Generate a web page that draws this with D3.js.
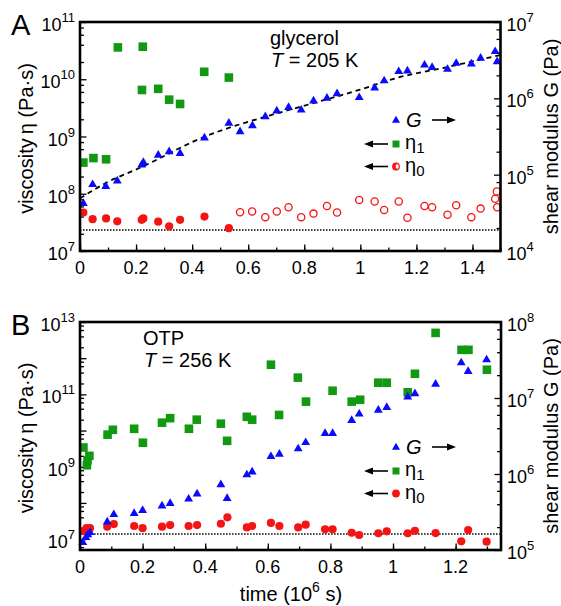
<!DOCTYPE html>
<html>
<head>
<meta charset="utf-8">
<script src="https://cdn.jsdelivr.net/npm/d3@7"></script>
<style>
  body { margin: 0; background: #fff; }
  svg { display: block; font-family: 'Liberation Sans', Arial, sans-serif; }
</style>
</head>
<body>
<svg id="chart" width="561" height="606"></svg>
<script>
// ---- data: [time (10^6 s), value] ----
// panel A, glycerol 205 K
const glyEta1 = [[0.012, 3.5e8], [0.048, 4.2e8], [0.093, 4.0e8], [0.135, 3.6e10], [0.224, 3.7e10],
  [0.221, 6.5e9], [0.279, 6.8e9], [0.318, 4.4e9], [0.357, 3.7e9], [0.443, 1.35e10], [0.531, 1.07e10]];
const glyEta0 = [[0.012, 4.7e7], [0.045, 3.6e7], [0.093, 3.7e7], [0.133, 3.3e7], [0.22, 3.5e7],
  [0.226, 3.7e7], [0.279, 3.25e7], [0.318, 2.7e7], [0.357, 3.5e7], [0.444, 4.0e7], [0.531, 2.5e7]];
const glyEta0Open = [[0.571, 4.75e7], [0.614, 4.9e7], [0.661, 3.9e7], [0.702, 4.9e7], [0.744, 5.8e7],
  [0.789, 3.9e7], [0.833, 4.5e7], [0.881, 6.1e7], [0.917, 4.7e7], [0.996, 7.8e7], [1.051, 7.3e7],
  [1.085, 5.2e7], [1.137, 7.3e7], [1.168, 3.8e7], [1.229, 6.1e7], [1.256, 5.8e7], [1.311, 4.3e7],
  [1.342, 6.3e7], [1.396, 3.9e7], [1.429, 5.5e7], [1.481, 8.2e7], [1.487, 1.1e8], [1.488, 5.8e7]];
const glyG = [[0.012, 4.3e4], [0.045, 7.6e4], [0.092, 7.2e4], [0.133, 8.5e4], [0.22, 1.37e5],
  [0.226, 1.48e5], [0.279, 1.85e5], [0.318, 2.05e5], [0.357, 1.95e5], [0.444, 3.1e5], [0.531, 4.85e5],
  [0.571, 3.75e5], [0.615, 4.5e5], [0.661, 5.9e5], [0.702, 7.0e5], [0.744, 7.8e5], [0.789, 7.2e5],
  [0.833, 9.5e5], [0.881, 1.03e6], [0.917, 1.18e6], [0.996, 1.05e6], [1.051, 1.4e6], [1.085, 1.74e6],
  [1.137, 2.3e6], [1.168, 2.34e6], [1.229, 2.8e6], [1.256, 2.6e6], [1.311, 2.46e6], [1.342, 2.95e6],
  [1.396, 2.9e6], [1.429, 3.45e6], [1.481, 4.2e6], [1.488, 3.1e6]];
const glyFit = [[0, 4.9e4], [0.093, 7.8e4], [0.22, 1.26e5], [0.444, 3.14e5], [0.679, 6.0e5],
  [0.789, 7.8e5], [0.996, 1.29e6], [1.137, 1.88e6], [1.311, 2.57e6], [1.5, 3.7e6]];
const glyRef = [[0, 2.33e7], [1.5, 2.33e7]];

// panel B, OTP 256 K
const otpEta1 = [[0.011, 3.4e9], [0.022, 1.1e9], [0.024, 1.5e9], [0.03, 2.0e9], [0.088, 7.7e9],
  [0.105, 1.05e10], [0.173, 1.12e10], [0.201, 4.6e9], [0.262, 1.65e10], [0.288, 2.2e10],
  [0.348, 1.12e10], [0.373, 2.0e10], [0.45, 1.55e10], [0.47, 5.2e9], [0.533, 2.4e10], [0.55, 2.0e10],
  [0.61, 6.6e11], [0.636, 2.7e10], [0.696, 2.9e11], [0.722, 6.3e10], [0.807, 1.26e11], [0.868, 6.3e10],
  [0.895, 7.1e10], [0.953, 2.1e11], [0.98, 2.1e11], [1.047, 1.14e11], [1.07, 3.7e11], [1.136, 5.0e12],
  [1.219, 1.7e12], [1.241, 1.7e12], [1.3, 4.8e11]];
const otpEta0 = [[0.01, 1.67e7], [0.021, 2.0e7], [0.032, 2.0e7], [0.087, 2.2e7], [0.108, 2.6e7],
  [0.173, 2.3e7], [0.2, 2.0e7], [0.262, 2.2e7], [0.288, 2.45e7], [0.347, 2.3e7], [0.374, 2.45e7],
  [0.45, 2.66e7], [0.471, 4.0e7], [0.533, 2.1e7], [0.55, 2.3e7], [0.61, 2.8e7], [0.637, 2.3e7],
  [0.697, 2.1e7], [0.721, 2.5e7], [0.783, 1.86e7], [0.807, 1.86e7], [0.868, 1.5e7], [0.892, 1.3e7],
  [0.953, 1.45e7], [0.98, 1.64e7], [1.047, 1.45e7], [1.07, 1.7e7], [1.136, 1.47e7], [1.218, 8.7e6],
  [1.24, 1.78e7], [1.299, 8.5e6]];
const otpG = [[0.009, 1.29e5], [0.019, 1.5e5], [0.025, 1.63e5], [0.032, 1.74e5], [0.087, 2.4e5],
  [0.108, 3.0e5], [0.173, 3.1e5], [0.2, 3.4e5], [0.262, 3.9e5], [0.288, 4.2e5], [0.347, 4.8e5],
  [0.374, 5.6e5], [0.45, 7.4e5], [0.47, 4.9e5], [0.533, 1.0e6], [0.55, 1.09e6], [0.61, 1.74e6],
  [0.637, 1.87e6], [0.697, 2.2e6], [0.721, 2.66e6], [0.783, 3.5e6], [0.807, 3.5e6], [0.868, 5.2e6],
  [0.892, 6.3e6], [0.953, 7.1e6], [0.98, 7.7e6], [1.047, 1.06e7], [1.07, 1.17e7], [1.136, 1.56e7],
  [1.218, 2.98e7], [1.24, 2.29e7], [1.299, 3.26e7]];
const otpRef = [[0.045, 1.38e7], [1.345, 1.38e7]];

// axis ticks
const xTicksA = [0, 0.2, 0.4, 0.6, 0.8, 1, 1.2, 1.4];
const xTicksB = [0, 0.2, 0.4, 0.6, 0.8, 1, 1.2];
const leftLabelsA = [7, 8, 9, 10, 11];
const rightLabelsA = [4, 5, 6, 7];
const leftLabelsB = [7, 9, 11, 13];
const rightLabelsB = [5, 6, 7, 8];

const blue = '#0a0aff';
const green = '#129912';
const red = '#f51414';

const svg = d3.select('#chart');

// minor log ticks at 2,4,6,8 and each decade
const logTicks = (lo, hi) => {
  const out = [];
  for (let e = Math.floor(Math.log10(lo)); e <= Math.ceil(Math.log10(hi)); e++) {
    [2, 4, 6, 8].forEach((m) => {
      const v = m * 10 ** e;
      if (v >= lo && v <= hi) out.push(v);
    });
  }
  return out;
};
const decades = (lo, hi) => d3.range(Math.ceil(Math.log10(lo)), Math.floor(Math.log10(hi)) + 1).map((e) => 10 ** e);

const powLabel = (g, exps, scale, x, anchor) => {
  exps.forEach((e) => {
    const t = g.append('text')
      .attr('x', x)
      .attr('y', scale(10 ** e) + 9)
      .attr('text-anchor', anchor)
      .style('font-size', '18px');
    t.append('tspan').text('10');
    t.append('tspan').attr('dy', -9).style('font-size', '13px').text(e);
  });
};

const arrow = (g, x1, x2, y) => {
  const dir = x2 > x1 ? 1 : -1;
  g.append('line')
    .attr('x1', x1).attr('x2', x2 - dir * 6).attr('y1', y).attr('y2', y)
    .attr('stroke', '#000').attr('stroke-width', 1.6);
  g.append('path')
    .attr('d', `M${x2},${y}L${x2 - dir * 9},${y - 3.5}L${x2 - dir * 9},${y + 3.5}Z`)
    .attr('fill', '#000');
};

const triangle = d3.symbol().type(d3.symbolTriangle).size(34);

const makePanel = (p) => {
  const x = d3.scaleLinear().domain(p.xDomain).range([p.left, p.right]);
  const yL = d3.scaleLog().domain(p.yLDomain).range([p.bottom, p.top]);
  const yR = d3.scaleLog().domain(p.yRDomain).range([p.bottom, p.top]);
  const g = svg.append('g');

  // ticks (inward)
  const tickAxis = (axis, scale, values, size, transform) => {
    g.append('g')
      .attr('transform', transform)
      .call(axis(scale).tickValues(values).tickSize(-size).tickSizeOuter(0).tickFormat(''))
      .call((s) => s.select('.domain').remove())
      .call((s) => s.selectAll('line').attr('stroke', '#000').attr('stroke-width', 1.3));
  };
  const xMinor = d3.range(0, p.xDomain[1] + 1e-9, 0.1).map((d) => Math.round(d * 10) / 10);
  tickAxis(d3.axisBottom, x, xMinor, 3.5, `translate(0,${p.bottom})`);
  tickAxis(d3.axisBottom, x, p.xTicks, 6.5, `translate(0,${p.bottom})`);
  tickAxis(d3.axisLeft, yL, logTicks(...p.yLDomain), 4, `translate(${p.left},0)`);
  tickAxis(d3.axisLeft, yL, decades(...p.yLDomain), 6.5, `translate(${p.left},0)`);
  tickAxis(d3.axisRight, yR, logTicks(...p.yRDomain), 4, `translate(${p.right},0)`);
  tickAxis(d3.axisRight, yR, decades(...p.yRDomain), 6.5, `translate(${p.right},0)`);

  // tick labels
  p.xTicks.forEach((t) => {
    g.append('text')
      .attr('x', x(t))
      .attr('y', p.bottom + 23)
      .attr('text-anchor', 'middle')
      .style('font-size', '18px')
      .text(String(+t.toFixed(1)));
  });
  powLabel(g, p.leftLabels, yL, p.left - 5, 'end');
  powLabel(g, p.rightLabels, yR, p.right + 6, 'start');

  // reference lines
  const lineL = d3.line().x((d) => x(d[0])).y((d) => yL(d[1]));
  g.append('path')
    .attr('d', lineL(p.ref))
    .attr('fill', 'none').attr('stroke', '#000').attr('stroke-width', 1.5)
    .attr('stroke-dasharray', '1.5,1.5');
  if (p.fit) {
    g.append('path')
      .attr('d', d3.line().x((d) => x(d[0])).y((d) => yR(d[1])).curve(d3.curveMonotoneX)(p.fit))
      .attr('fill', 'none').attr('stroke', '#000').attr('stroke-width', 1.8)
      .attr('stroke-dasharray', '5,4');
  }

  // markers
  g.append('g').selectAll('rect').data(p.eta1).join('rect')
    .attr('x', (d) => x(d[0]) - 4.3).attr('y', (d) => yL(d[1]) - 4.3)
    .attr('width', 8.6).attr('height', 8.6)
    .attr('fill', green);
  g.append('g').selectAll('circle').data(p.eta0).join('circle')
    .attr('cx', (d) => x(d[0])).attr('cy', (d) => yL(d[1])).attr('r', 4.1)
    .attr('fill', red);
  if (p.eta0Open) {
    g.append('g').selectAll('circle').data(p.eta0Open).join('circle')
      .attr('cx', (d) => x(d[0])).attr('cy', (d) => yL(d[1])).attr('r', 3.6)
      .attr('fill', '#fff').attr('stroke', red).attr('stroke-width', 1.3);
  }
  g.append('g').selectAll('path').data(p.G).join('path')
    .attr('d', triangle)
    .attr('transform', (d) => `translate(${x(d[0])},${yR(d[1]) + 0.8})`)
    .attr('fill', blue);

  // frame
  g.append('rect')
    .attr('x', p.left).attr('y', p.top)
    .attr('width', p.right - p.left).attr('height', p.bottom - p.top)
    .attr('fill', 'none').attr('stroke', '#000').attr('stroke-width', 2.6);

  // axis titles
  const midY = (p.top + p.bottom) / 2;
  const lt = g.append('text')
    .attr('transform', `translate(33,${midY + 2}) rotate(-90)`)
    .attr('text-anchor', 'middle').style('font-size', '20px');
  lt.append('tspan').text('viscosity\u2009η (Pa·s)');
  g.append('text')
    .attr('transform', `translate(558,${midY}) rotate(-90)`)
    .attr('text-anchor', 'middle').style('font-size', '20px')
    .text('shear modulus G (Pa)');

  // panel letter and annotation
  g.append('text').attr('x', 11).attr('y', p.top + 13).style('font-size', '29px').text(p.letter);
  g.append('text').attr('x', p.noteX).attr('y', p.noteY).style('font-size', '20px').text(p.name);
  const tt = g.append('text').attr('x', p.noteX + 1).attr('y', p.noteY + 22).style('font-size', '20px');
  tt.append('tspan').style('font-style', 'italic').text('T');
  tt.append('tspan').text(` = ${p.temp} K`);

  // legend
  const lg = g.append('g');
  const r0 = p.legendY;
  lg.append('path').attr('d', d3.symbol().type(d3.symbolTriangle).size(28))
    .attr('transform', `translate(396,${r0 + 0.5})`).attr('fill', blue);
  lg.append('text').attr('x', 406).attr('y', r0 + 7).style('font-size', '20px').style('font-style', 'italic').text('G');
  arrow(lg, 432, 456, r0);
  const r1 = r0 + 24;
  arrow(lg, 388, 364, r1);
  lg.append('rect').attr('x', 392.5).attr('y', r1 - 3.5).attr('width', 7).attr('height', 7).attr('fill', green);
  const e1 = lg.append('text').attr('x', 405).attr('y', r1 + 5).style('font-size', '20px');
  e1.append('tspan').text('η');
  e1.append('tspan').attr('dy', 4).style('font-size', '15px').text('1');
  const r2 = r1 + 22.5;
  arrow(lg, 388, 364, r2);
  if (p.eta0Open) {
    lg.append('circle').attr('cx', 396).attr('cy', r2).attr('r', 3.9).attr('fill', red);
    lg.append('ellipse').attr('cx', 397.2).attr('cy', r2).attr('rx', 1.5).attr('ry', 2.2).attr('fill', '#fff');
  } else {
    lg.append('circle').attr('cx', 396).attr('cy', r2).attr('r', 3.9).attr('fill', red);
  }
  const e0 = lg.append('text').attr('x', 405).attr('y', r2 + 5).style('font-size', '20px');
  e0.append('tspan').text('η');
  e0.append('tspan').attr('dy', 4).style('font-size', '15px').text('0');
};

makePanel({
  letter: 'A', name: 'glycerol', temp: 205, noteX: 270, noteY: 45,
  left: 80, right: 500.5, top: 22, bottom: 251,
  xDomain: [0, 1.5], yLDomain: [1e7, 1e11], yRDomain: [1e4, 1e7],
  xTicks: xTicksA, leftLabels: leftLabelsA, rightLabels: rightLabelsA,
  eta1: glyEta1, eta0: glyEta0, eta0Open: glyEta0Open, G: glyG, fit: glyFit, ref: glyRef,
  legendY: 120,
});

makePanel({
  letter: 'B', name: 'OTP', temp: 256, noteX: 143, noteY: 345,
  left: 80, right: 501, top: 322, bottom: 550,
  xDomain: [0, 1.345], yLDomain: [5e6, 1e13], yRDomain: [1e5, 1e8],
  xTicks: xTicksB, leftLabels: leftLabelsB, rightLabels: rightLabelsB,
  eta1: otpEta1, eta0: otpEta0, G: otpG, ref: otpRef,
  legendY: 447,
});

// shared x title
const xt = svg.append('text').attr('x', 291).attr('y', 601).attr('text-anchor', 'middle').style('font-size', '20px');
xt.append('tspan').text('time (10');
xt.append('tspan').attr('dy', -9).style('font-size', '14px').text('6');
xt.append('tspan').attr('dy', 9).text(' s)');
</script>
</body>
</html>
